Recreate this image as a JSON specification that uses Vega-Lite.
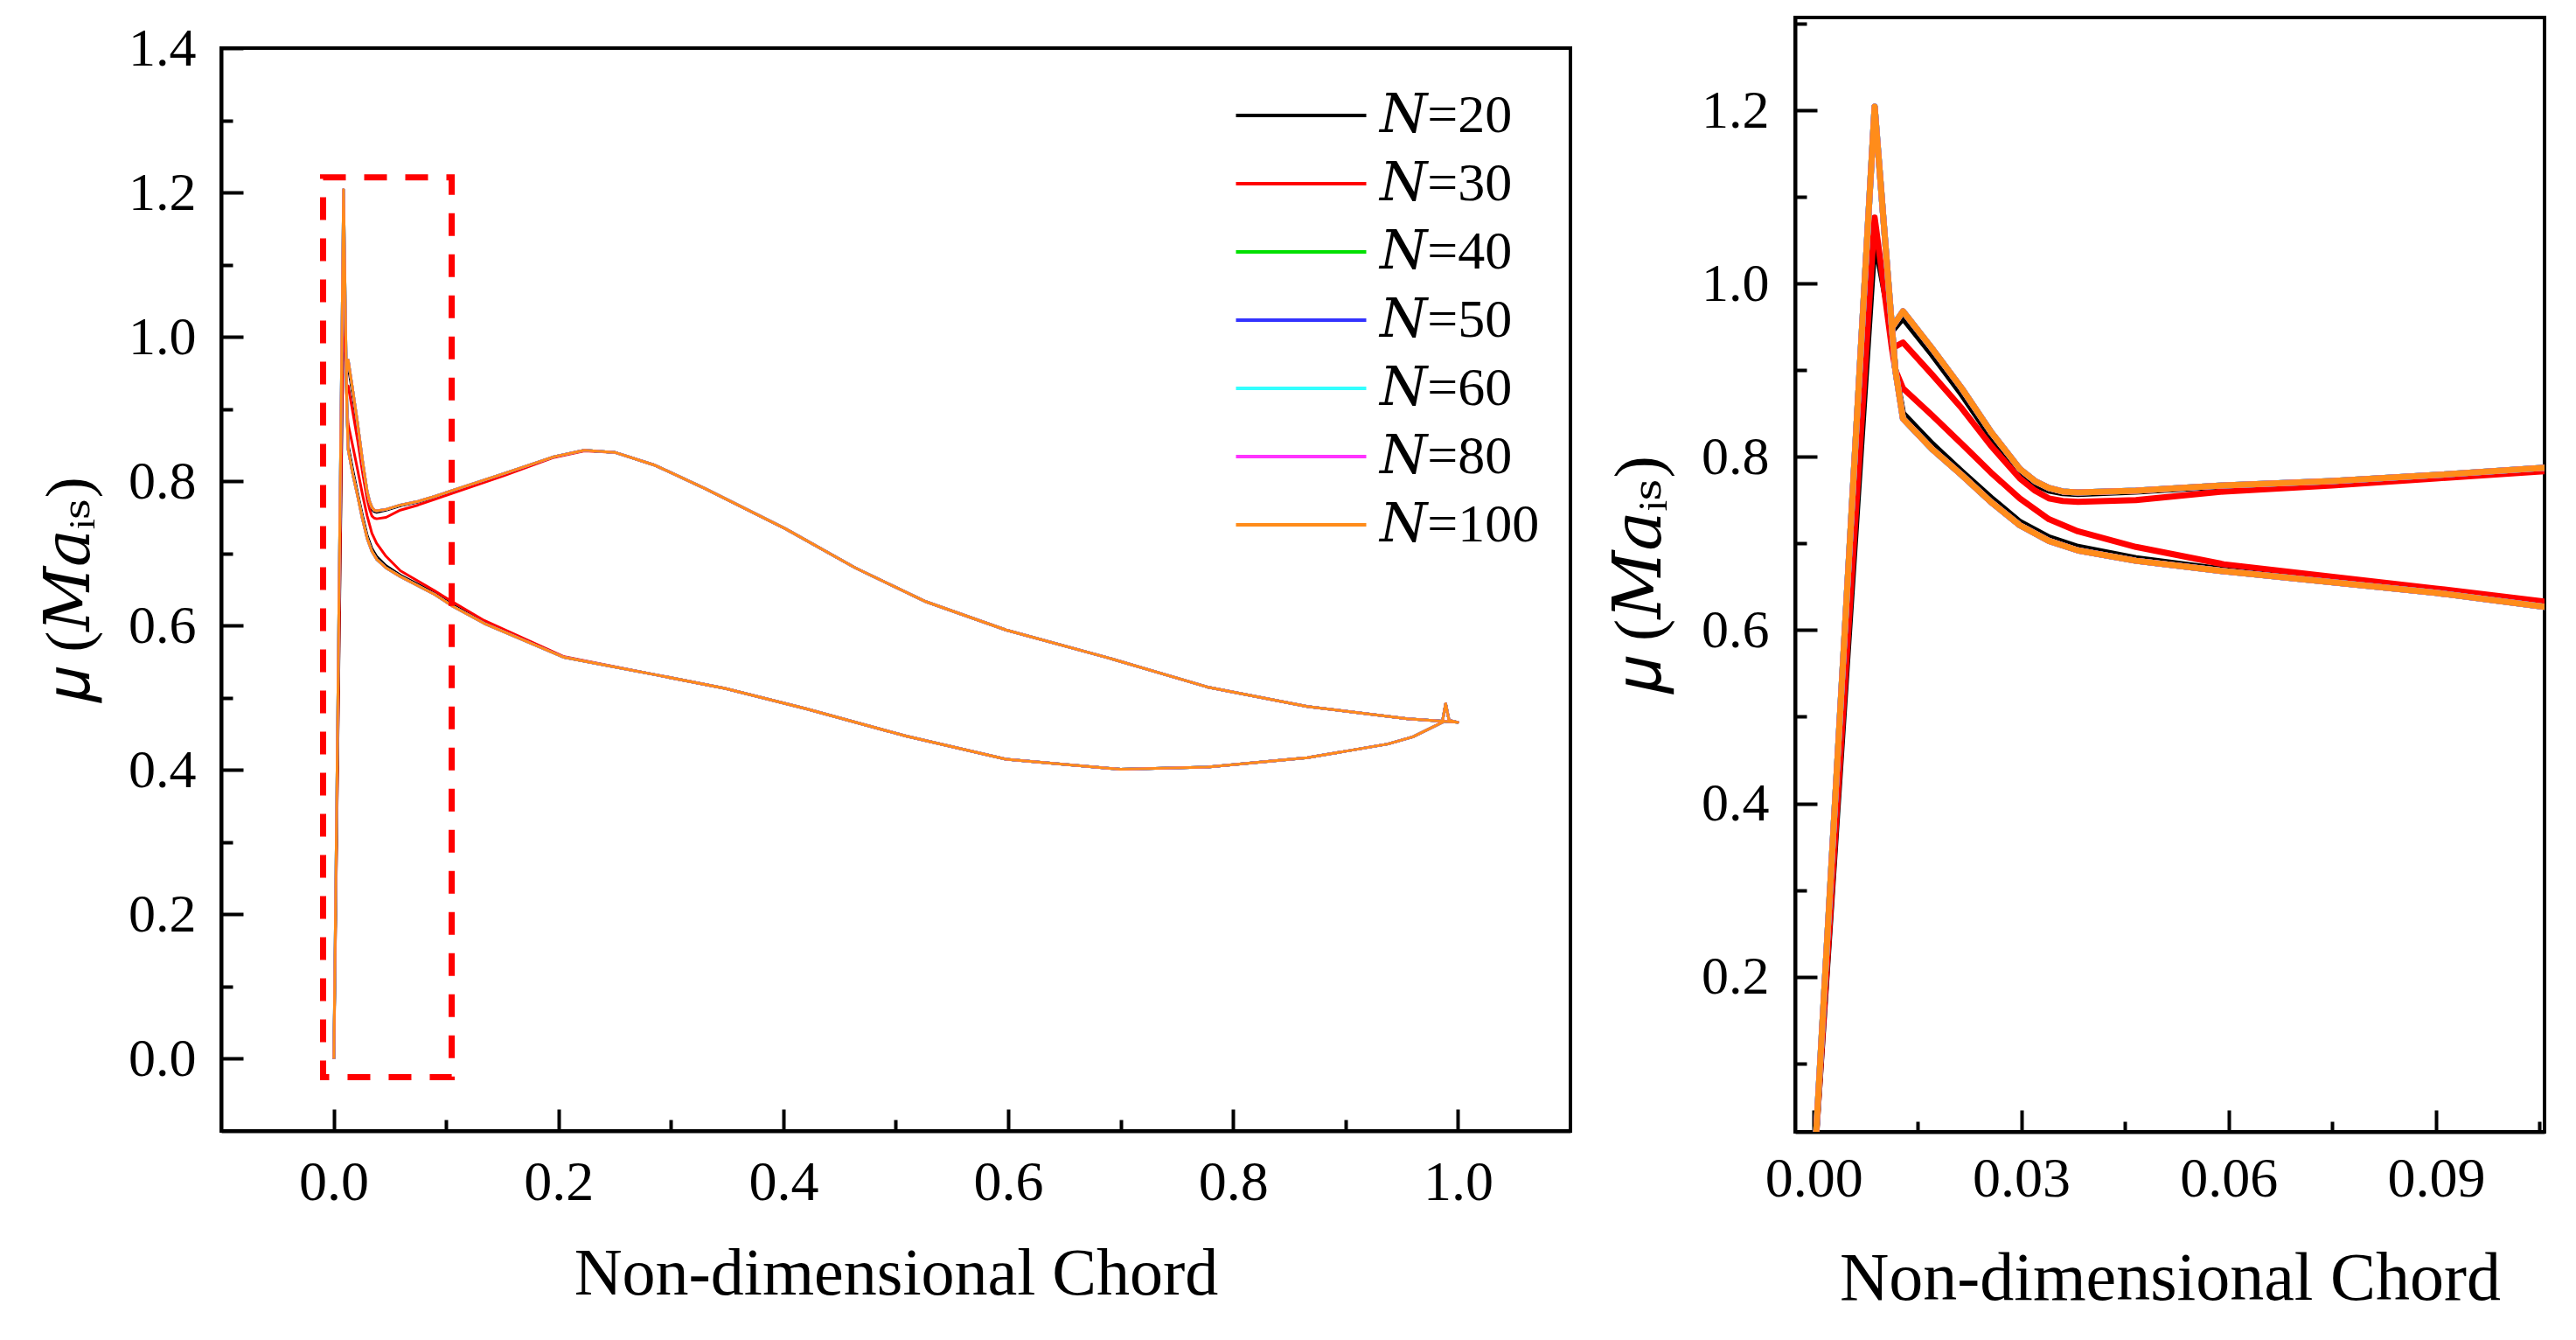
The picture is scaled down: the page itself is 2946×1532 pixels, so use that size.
{
  "$schema": "https://vega.github.io/schema/vega-lite/v6.json",
  "background": "white",
  "padding": {"left": 41, "top": 17, "right": 0, "bottom": 0},
  "spacing": 37,
  "datasets": {
    "mu": [
      {"i": 1, "x": 0.0002, "N=20": 0, "N=30": 0, "N=40": 0, "N=50": 0, "N=60": 0, "N=80": 0, "N=100": 0},
      {"i": 2, "x": 0.0088, "N=20": 1.051, "N=30": 1.076, "N=40": 1.204, "N=50": 1.204, "N=60": 1.204, "N=80": 1.204, "N=100": 1.204},
      {"i": 3, "x": 0.0113, "N=20": 0.945, "N=30": 0.925, "N=40": 0.949, "N=50": 0.949, "N=60": 0.949, "N=80": 0.949, "N=100": 0.949},
      {"i": 4, "x": 0.0129, "N=20": 0.960, "N=30": 0.932, "N=40": 0.968, "N=50": 0.968, "N=60": 0.968, "N=80": 0.968, "N=100": 0.968},
      {"i": 5, "x": 0.0171, "N=20": 0.918, "N=30": 0.895, "N=40": 0.925, "N=50": 0.925, "N=60": 0.925, "N=80": 0.925, "N=100": 0.925},
      {"i": 6, "x": 0.0214, "N=20": 0.872, "N=30": 0.856, "N=40": 0.879, "N=50": 0.879, "N=60": 0.879, "N=80": 0.879, "N=100": 0.879},
      {"i": 7, "x": 0.0256, "N=20": 0.823, "N=30": 0.813, "N=40": 0.829, "N=50": 0.829, "N=60": 0.829, "N=80": 0.829, "N=100": 0.829},
      {"i": 8, "x": 0.0298, "N=20": 0.781, "N=30": 0.775, "N=40": 0.786, "N=50": 0.786, "N=60": 0.786, "N=80": 0.786, "N=100": 0.786},
      {"i": 9, "x": 0.032, "N=20": 0.768, "N=30": 0.761, "N=40": 0.772, "N=50": 0.772, "N=60": 0.772, "N=80": 0.772, "N=100": 0.772},
      {"i": 10, "x": 0.034, "N=20": 0.761, "N=30": 0.752, "N=40": 0.764, "N=50": 0.764, "N=60": 0.764, "N=80": 0.764, "N=100": 0.764},
      {"i": 11, "x": 0.036, "N=20": 0.758, "N=30": 0.749, "N=40": 0.760, "N=50": 0.760, "N=60": 0.760, "N=80": 0.760, "N=100": 0.760},
      {"i": 12, "x": 0.0382, "N=20": 0.757, "N=30": 0.748, "N=40": 0.759, "N=50": 0.759, "N=60": 0.759, "N=80": 0.759, "N=100": 0.759},
      {"i": 13, "x": 0.0466, "N=20": 0.760, "N=30": 0.750, "N=40": 0.761, "N=50": 0.761, "N=60": 0.761, "N=80": 0.761, "N=100": 0.761},
      {"i": 14, "x": 0.0593, "N=20": 0.766, "N=30": 0.760, "N=40": 0.767, "N=50": 0.767, "N=60": 0.767, "N=80": 0.767, "N=100": 0.767},
      {"i": 15, "x": 0.075, "N=20": 0.771, "N=30": 0.767, "N=40": 0.772, "N=50": 0.772, "N=60": 0.772, "N=80": 0.772, "N=100": 0.772},
      {"i": 16, "x": 0.09, "N=20": 0.778, "N=30": 0.775, "N=40": 0.779, "N=50": 0.779, "N=60": 0.779, "N=80": 0.779, "N=100": 0.779},
      {"i": 17, "x": 0.107, "N=20": 0.787, "N=30": 0.784, "N=40": 0.788, "N=50": 0.788, "N=60": 0.788, "N=80": 0.788, "N=100": 0.788},
      {"i": 18, "x": 0.152, "N=20": 0.810, "N=30": 0.808, "N=40": 0.811, "N=50": 0.811, "N=60": 0.811, "N=80": 0.811, "N=100": 0.811},
      {"i": 19, "x": 0.196, "N=20": 0.834, "N=30": 0.833, "N=40": 0.834, "N=50": 0.834, "N=60": 0.834, "N=80": 0.834, "N=100": 0.834},
      {"i": 20, "x": 0.223, "N=20": 0.843, "N=30": 0.842, "N=40": 0.843, "N=50": 0.843, "N=60": 0.843, "N=80": 0.843, "N=100": 0.843},
      {"i": 21, "x": 0.25, "N=20": 0.840, "N=30": 0.840, "N=40": 0.840, "N=50": 0.840, "N=60": 0.840, "N=80": 0.840, "N=100": 0.840},
      {"i": 22, "x": 0.286, "N=20": 0.822, "N=30": 0.822, "N=40": 0.822, "N=50": 0.822, "N=60": 0.822, "N=80": 0.822, "N=100": 0.822},
      {"i": 23, "x": 0.33, "N=20": 0.790, "N=30": 0.790, "N=40": 0.790, "N=50": 0.790, "N=60": 0.790, "N=80": 0.790, "N=100": 0.790},
      {"i": 24, "x": 0.402, "N=20": 0.734, "N=30": 0.734, "N=40": 0.734, "N=50": 0.734, "N=60": 0.734, "N=80": 0.734, "N=100": 0.734},
      {"i": 25, "x": 0.464, "N=20": 0.680, "N=30": 0.680, "N=40": 0.680, "N=50": 0.680, "N=60": 0.680, "N=80": 0.680, "N=100": 0.680},
      {"i": 26, "x": 0.527, "N=20": 0.633, "N=30": 0.633, "N=40": 0.633, "N=50": 0.633, "N=60": 0.633, "N=80": 0.633, "N=100": 0.633},
      {"i": 27, "x": 0.598, "N=20": 0.594, "N=30": 0.594, "N=40": 0.594, "N=50": 0.594, "N=60": 0.594, "N=80": 0.594, "N=100": 0.594},
      {"i": 28, "x": 0.6875, "N=20": 0.556, "N=30": 0.556, "N=40": 0.556, "N=50": 0.556, "N=60": 0.556, "N=80": 0.556, "N=100": 0.556},
      {"i": 29, "x": 0.777, "N=20": 0.515, "N=30": 0.515, "N=40": 0.515, "N=50": 0.515, "N=60": 0.515, "N=80": 0.515, "N=100": 0.515},
      {"i": 30, "x": 0.866, "N=20": 0.488, "N=30": 0.488, "N=40": 0.488, "N=50": 0.488, "N=60": 0.488, "N=80": 0.488, "N=100": 0.488},
      {"i": 31, "x": 0.955, "N=20": 0.471, "N=30": 0.471, "N=40": 0.471, "N=50": 0.471, "N=60": 0.471, "N=80": 0.471, "N=100": 0.471},
      {"i": 32, "x": 1.0, "N=20": 0.466, "N=30": 0.466, "N=40": 0.466, "N=50": 0.466, "N=60": 0.466, "N=80": 0.466, "N=100": 0.466},
      {"i": 33, "x": 0.992, "N=20": 0.469, "N=30": 0.469, "N=40": 0.469, "N=50": 0.469, "N=60": 0.469, "N=80": 0.469, "N=100": 0.469},
      {"i": 34, "x": 0.989, "N=20": 0.492, "N=30": 0.492, "N=40": 0.492, "N=50": 0.492, "N=60": 0.492, "N=80": 0.492, "N=100": 0.492},
      {"i": 35, "x": 0.986, "N=20": 0.466, "N=30": 0.466, "N=40": 0.466, "N=50": 0.466, "N=60": 0.466, "N=80": 0.466, "N=100": 0.466},
      {"i": 36, "x": 0.96, "N=20": 0.446, "N=30": 0.446, "N=40": 0.446, "N=50": 0.446, "N=60": 0.446, "N=80": 0.446, "N=100": 0.446},
      {"i": 37, "x": 0.9375, "N=20": 0.436, "N=30": 0.436, "N=40": 0.436, "N=50": 0.436, "N=60": 0.436, "N=80": 0.436, "N=100": 0.436},
      {"i": 38, "x": 0.9, "N=20": 0.426, "N=30": 0.426, "N=40": 0.426, "N=50": 0.426, "N=60": 0.426, "N=80": 0.426, "N=100": 0.426},
      {"i": 39, "x": 0.866, "N=20": 0.417, "N=30": 0.417, "N=40": 0.417, "N=50": 0.417, "N=60": 0.417, "N=80": 0.417, "N=100": 0.417},
      {"i": 40, "x": 0.777, "N=20": 0.404, "N=30": 0.404, "N=40": 0.404, "N=50": 0.404, "N=60": 0.404, "N=80": 0.404, "N=100": 0.404},
      {"i": 41, "x": 0.7, "N=20": 0.401, "N=30": 0.401, "N=40": 0.401, "N=50": 0.401, "N=60": 0.401, "N=80": 0.401, "N=100": 0.401},
      {"i": 42, "x": 0.598, "N=20": 0.415, "N=30": 0.415, "N=40": 0.415, "N=50": 0.415, "N=60": 0.415, "N=80": 0.415, "N=100": 0.415},
      {"i": 43, "x": 0.509, "N=20": 0.447, "N=30": 0.447, "N=40": 0.447, "N=50": 0.447, "N=60": 0.447, "N=80": 0.447, "N=100": 0.447},
      {"i": 44, "x": 0.42, "N=20": 0.485, "N=30": 0.485, "N=40": 0.485, "N=50": 0.485, "N=60": 0.485, "N=80": 0.485, "N=100": 0.485},
      {"i": 45, "x": 0.348, "N=20": 0.513, "N=30": 0.513, "N=40": 0.513, "N=50": 0.513, "N=60": 0.513, "N=80": 0.513, "N=100": 0.513},
      {"i": 46, "x": 0.286, "N=20": 0.532, "N=30": 0.532, "N=40": 0.532, "N=50": 0.532, "N=60": 0.532, "N=80": 0.532, "N=100": 0.532},
      {"i": 47, "x": 0.205, "N=20": 0.556, "N=30": 0.557, "N=40": 0.556, "N=50": 0.556, "N=60": 0.556, "N=80": 0.556, "N=100": 0.556},
      {"i": 48, "x": 0.134, "N=20": 0.604, "N=30": 0.607, "N=40": 0.603, "N=50": 0.603, "N=60": 0.603, "N=80": 0.603, "N=100": 0.603},
      {"i": 49, "x": 0.1057, "N=20": 0.629, "N=30": 0.633, "N=40": 0.627, "N=50": 0.627, "N=60": 0.627, "N=80": 0.627, "N=100": 0.627},
      {"i": 50, "x": 0.09, "N=20": 0.645, "N=30": 0.648, "N=40": 0.643, "N=50": 0.643, "N=60": 0.643, "N=80": 0.643, "N=100": 0.643},
      {"i": 51, "x": 0.0593, "N=20": 0.670, "N=30": 0.676, "N=40": 0.668, "N=50": 0.668, "N=60": 0.668, "N=80": 0.668, "N=100": 0.668},
      {"i": 52, "x": 0.0466, "N=20": 0.683, "N=30": 0.696, "N=40": 0.680, "N=50": 0.680, "N=60": 0.680, "N=80": 0.680, "N=100": 0.680},
      {"i": 53, "x": 0.0382, "N=20": 0.696, "N=30": 0.714, "N=40": 0.692, "N=50": 0.692, "N=60": 0.692, "N=80": 0.692, "N=100": 0.692},
      {"i": 54, "x": 0.034, "N=20": 0.707, "N=30": 0.728, "N=40": 0.703, "N=50": 0.703, "N=60": 0.703, "N=80": 0.703, "N=100": 0.703},
      {"i": 55, "x": 0.0298, "N=20": 0.725, "N=30": 0.752, "N=40": 0.721, "N=50": 0.721, "N=60": 0.721, "N=80": 0.721, "N=100": 0.721},
      {"i": 56, "x": 0.0256, "N=20": 0.753, "N=30": 0.782, "N=40": 0.748, "N=50": 0.748, "N=60": 0.748, "N=80": 0.748, "N=100": 0.748},
      {"i": 57, "x": 0.0214, "N=20": 0.783, "N=30": 0.815, "N=40": 0.779, "N=50": 0.779, "N=60": 0.779, "N=80": 0.779, "N=100": 0.779},
      {"i": 58, "x": 0.0171, "N=20": 0.815, "N=30": 0.848, "N=40": 0.809, "N=50": 0.809, "N=60": 0.809, "N=80": 0.809, "N=100": 0.809},
      {"i": 59, "x": 0.0129, "N=20": 0.850, "N=30": 0.879, "N=40": 0.844, "N=50": 0.844, "N=60": 0.844, "N=80": 0.844, "N=100": 0.844},
      {"i": 60, "x": 0.0118, "N=20": 0.900, "N=30": 0.900, "N=40": 0.900, "N=50": 0.900, "N=60": 0.900, "N=80": 0.900, "N=100": 0.900},
      {"i": 61, "x": 0.0113, "N=20": 0.945, "N=30": 0.925, "N=40": 0.949, "N=50": 0.949, "N=60": 0.949, "N=80": 0.949, "N=100": 0.949}
    ],
    "box": [
      {"x1": -0.0094, "x2": 0.105, "y1": -0.0255, "y2": 1.221}
    ]
  },
  "config": {
    "view": {"stroke": "black", "strokeWidth": 4},
    "axis": {
      "grid": false,
      "domainColor": "black",
      "domainWidth": 4,
      "tickColor": "black",
      "tickWidth": 4,
      "labelColor": "black",
      "titleColor": "black",
      "labelFont": "Liberation Serif, DejaVu Serif",
      "titleFont": "Liberation Serif, DejaVu Serif",
      "titleFontWeight": "normal"
    }
  },
  "resolve": {"scale": {"color": "independent"}},
  "hconcat": [
    {
      "spacing": -2,
      "vconcat": [
        {
          "width": 1543,
          "height": 1,
          "view": {"stroke": null},
          "data": {"values": [{}]},
          "mark": {"type": "point", "opacity": 0},
          "encoding": {}
        },
        {
          "width": 1543,
          "height": 1238,
          "layer": [
            {
              "data": {"name": "mu"},
              "transform": [
                {"fold": ["N=20", "N=30", "N=40", "N=50", "N=60", "N=80", "N=100"], "as": ["series", "mu"]}
              ],
              "mark": {"type": "line", "strokeWidth": 3, "strokeJoin": "round"},
              "encoding": {
                "x": {
                  "field": "x",
                  "type": "quantitative",
                  "title": "Non-dimensional Chord",
                  "scale": {"domain": [-0.1, 1.1], "nice": false, "zero": false},
                  "axis": {
                    "values": [0, 0.1, 0.2, 0.3, 0.4, 0.5, 0.6, 0.7, 0.8, 0.9, 1.0],
                    "labelExpr": "round(datum.value*10) % 2 === 0 ? format(datum.value, '.1f') : ''",
                    "tickSize": {"condition": {"test": "round(datum.value*10) % 2 !== 0", "value": -13}, "value": -25},
                    "labelPadding": 52,
                    "labelFontSize": 64,
                    "titleFontSize": 76,
                    "titlePadding": 35
                  }
                },
                "y": {
                  "field": "mu",
                  "type": "quantitative",
                  "title": "𝜇 (𝑀𝑎ᵢₛ)",
                  "scale": {"domain": [-0.1, 1.4], "nice": false, "zero": false},
                  "axis": {
                    "values": [0, 0.1, 0.2, 0.3, 0.4, 0.5, 0.6, 0.7, 0.8, 0.9, 1.0, 1.1, 1.2, 1.3, 1.4],
                    "labelExpr": "round(datum.value*10) % 2 === 0 ? format(datum.value, '.1f') : ''",
                    "tickSize": {"condition": {"test": "round(datum.value*10) % 2 !== 0", "value": -13}, "value": -25},
                    "labelPadding": 54,
                    "labelFontSize": 62,
                    "titleFontSize": 72,
                    "titlePadding": 30
                  }
                },
                "color": {
                  "field": "series",
                  "type": "nominal",
                  "scale": {
                    "domain": ["N=20", "N=30", "N=40", "N=50", "N=60", "N=80", "N=100"],
                    "range": ["#000000", "#ff0000", "#00e000", "#3333ff", "#33ffff", "#ff33ff", "#ff8c1a"]
                  },
                  "legend": {
                    "orient": "none",
                    "legendX": 1203,
                    "legendY": 80,
                    "title": null,
                    "padding": 0,
                    "symbolType": "M-2.5,0H2.5",
                    "symbolSize": 3552,
                    "symbolStrokeWidth": 4,
                    "labelFont": "Liberation Serif, DejaVu Serif",
                    "labelFontSize": 62,
                    "labelColor": "black",
                    "labelOffset": 58,
                    "labelLimit": 0,
                    "rowPadding": 15,
                    "labelExpr": "'𝑁' + slice(datum.label, 1)"
                  }
                },
                "order": {"field": "i", "type": "quantitative"}
              }
            },
            {
              "data": {"name": "box"},
              "mark": {"type": "rect", "fill": null, "stroke": "#ff0000", "strokeWidth": 7, "strokeDash": [26, 21]},
              "encoding": {
                "x": {"field": "x1", "type": "quantitative", "title": "Non-dimensional Chord"},
                "x2": {"field": "x2"},
                "y": {"field": "y1", "type": "quantitative", "title": "𝜇 (𝑀𝑎ᵢₛ)"},
                "y2": {"field": "y2"}
              }
            }
          ]
        }
      ]
    },
    {
      "width": 857,
      "height": 1274,
      "data": {"name": "mu"},
      "transform": [
        {"fold": ["N=20", "N=30", "N=40", "N=50", "N=60", "N=80", "N=100"], "as": ["series", "mu"]}
      ],
      "mark": {"type": "line", "strokeWidth": 7, "strokeJoin": "round", "clip": true},
      "encoding": {
        "x": {
          "field": "x",
          "type": "quantitative",
          "title": "Non-dimensional Chord",
          "scale": {"domain": [-0.0027, 0.1057], "nice": false, "zero": false},
          "axis": {
            "values": [0, 0.015, 0.03, 0.045, 0.06, 0.075, 0.09, 0.105],
            "labelExpr": "round(datum.value*1000) % 30 === 0 ? format(datum.value, '.2f') : ''",
            "tickSize": {"condition": {"test": "round(datum.value*1000) % 30 !== 0", "value": -12}, "value": -25},
            "labelPadding": 47,
            "labelFontSize": 64,
            "titleFontSize": 78,
            "titlePadding": 43
          }
        },
        "y": {
          "field": "mu",
          "type": "quantitative",
          "title": "𝜇 (𝑀𝑎ᵢₛ)",
          "scale": {"domain": [0.021, 1.307], "nice": false, "zero": false},
          "axis": {
            "values": [0.1, 0.2, 0.3, 0.4, 0.5, 0.6, 0.7, 0.8, 0.9, 1.0, 1.1, 1.2, 1.3],
            "labelExpr": "round(datum.value*10) % 2 === 0 ? format(datum.value, '.1f') : ''",
            "tickSize": {"condition": {"test": "round(datum.value*10) % 2 !== 0", "value": -13}, "value": -25},
            "labelPadding": 55,
            "labelFontSize": 62,
            "titleFontSize": 76,
            "titlePadding": 31
          }
        },
        "color": {
          "field": "series",
          "type": "nominal",
          "scale": {
            "domain": ["N=20", "N=30", "N=40", "N=50", "N=60", "N=80", "N=100"],
            "range": ["#000000", "#ff0000", "#00e000", "#3333ff", "#33ffff", "#ff33ff", "#ff8c1a"]
          },
          "legend": null
        },
        "order": {"field": "i", "type": "quantitative"}
      }
    }
  ]
}
